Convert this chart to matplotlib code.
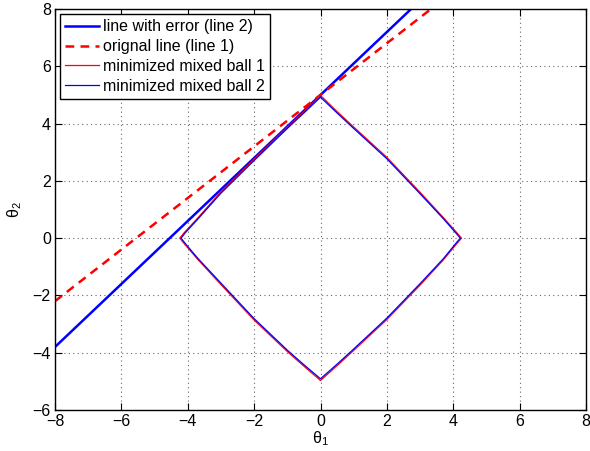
import numpy as np
import matplotlib
matplotlib.use("Agg")
import matplotlib.pyplot as plt

plt.rcParams.update({
    "font.family": ["Liberation Sans", "DejaVu Sans"],
    "font.size": 11.5,
    "xtick.direction": "in", "ytick.direction": "in",
    "xtick.top": True, "ytick.right": True,
})

# straight lines: endpoints
line2_x = [-8.0, 2.73]
line2_y = [-3.8, 8.0]
line1_x = [-8.0, 3.33]
line1_y = [-2.2, 8.0]

# minimized mixed balls, read point by point around the outline
ball1_x = [0.0, 0.5, 1.0, 2.0, 3.0, 3.7, 4.1, 4.25, 4.1, 3.7, 3.0, 2.0, 1.0, 0.5, 0.0,
           -0.5, -1.0, -2.0, -3.0, -3.7, -4.1, -4.24, -4.1, -3.7, -3.0, -2.0, -1.0, -0.5, 0.0]
ball1_y = [4.98, 4.42, 3.88, 2.82, 1.6, 0.72, 0.2, 0.0, -0.2, -0.76, -1.64, -2.84, -3.92, -4.45, -4.97,
           -4.47, -3.96, -2.86, -1.62, -0.74, -0.2, 0.0, 0.2, 0.7, 1.62, 2.76, 3.88, 4.42, 4.98]
ball2_x = [0.0, 0.5, 1.0, 2.0, 3.0, 3.7, 4.08, 4.21, 4.08, 3.7, 3.0, 2.0, 1.0, 0.5, 0.0,
           -0.5, -1.0, -2.0, -3.0, -3.7, -4.08, -4.2, -4.08, -3.7, -3.0, -2.0, -1.0, -0.5, 0.0]
ball2_y = [4.92, 4.37, 3.83, 2.77, 1.55, 0.68, 0.18, 0.0, -0.18, -0.72, -1.59, -2.79, -3.87, -4.4, -4.91,
           -4.42, -3.91, -2.81, -1.57, -0.7, -0.18, 0.0, 0.18, 0.66, 1.57, 2.71, 3.83, 4.37, 4.92]

fig = plt.figure(figsize=(5.9, 4.51), dpi=100)
ax = fig.add_axes([55 / 590, 41 / 451, 531 / 590, 401 / 451])

ax.plot(line2_x, line2_y, color="#0000ff", lw=1.8, label="line with error (line 2)")
ax.plot(line1_x, line1_y, color="#ff0000", lw=1.8, ls=(0, (3.5, 2.5)),
        label="orignal line (line 1)")
ax.plot(ball1_x, ball1_y, color="#ff0000", lw=0.9, label="minimized mixed ball 1")
ax.plot(ball2_x, ball2_y, color="#0000ff", lw=0.9, label="minimized mixed ball 2")

ax.set_xlim(-8, 8)
ax.set_ylim(-6, 8)
ax.set_xticks(np.arange(-8, 9, 2))
ax.set_yticks(np.arange(-6, 9, 2))
ax.set_xticklabels([str(v).replace("-", "\u2212") for v in range(-8, 9, 2)])
ax.set_yticklabels([str(v).replace("-", "\u2212") for v in range(-6, 9, 2)])
ax.grid(True, ls=(0, (1, 3)), color="0.4", lw=0.8)
ax.tick_params(length=5, width=0.8, pad=3)
for s in ax.spines.values():
    s.set_linewidth(1.0)

ax.set_xlabel(r"$\mathregular{θ_1}$", labelpad=0)
ax.set_ylabel(r"$\mathregular{θ_2}$", labelpad=6)

leg = ax.legend(loc="upper left", handlelength=2.1, borderaxespad=0.3,
                fancybox=False, framealpha=1, edgecolor="black",
                borderpad=0.35, labelspacing=0.3, handletextpad=0.25)
leg.get_frame().set_linewidth(1.0)

fig.savefig("out.png", dpi=100)
